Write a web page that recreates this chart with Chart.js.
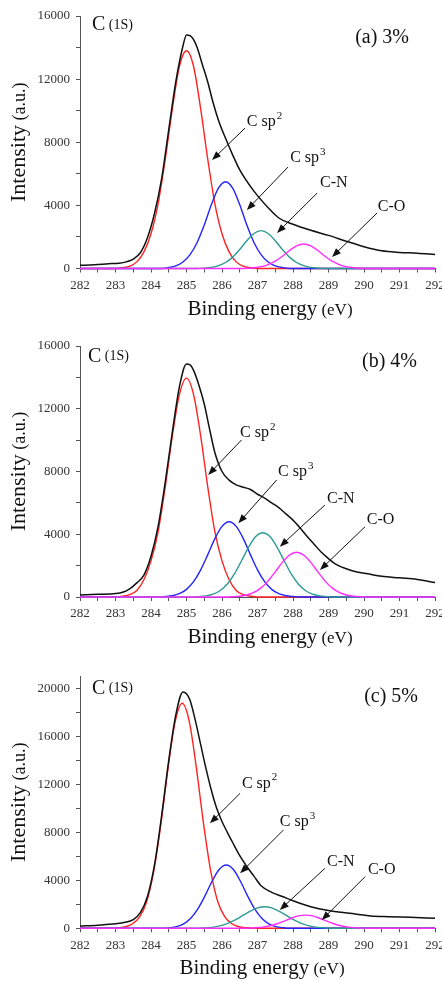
<!DOCTYPE html>
<html>
<head>
<meta charset="utf-8">
<script src="https://cdn.jsdelivr.net/npm/chart.js@4.4.1/dist/chart.umd.min.js"></script>
<style>
    html, body { margin: 0; padding: 0; background: #fff; }
    body { width: 442px; height: 981px; position: relative; overflow: hidden; }
    .painel { position: absolute; left: 0; width: 442px; height: 327px; }
</style>
</head>
<body>
<div class="painel" style="top:0px"><canvas id="chartA" width="442" height="327"></canvas></div>
<div class="painel" style="top:327px"><canvas id="chartB" width="442" height="327"></canvas></div>
<div class="painel" style="top:654px"><canvas id="chartC" width="442" height="327"></canvas></div>
<script>
// ticks dos eixos
const ticksEnergia = [282, 282.5, 283, 283.5, 284, 284.5, 285, 285.5, 286, 286.5, 287, 287.5, 288, 288.5, 289, 289.5, 290, 290.5, 291, 291.5, 292];
const ticksIntensidadeAB = [0, 2000, 4000, 6000, 8000, 10000, 12000, 14000, 16000];
const ticksIntensidadeC = [0, 2000, 4000, 6000, 8000, 10000, 12000, 14000, 16000, 18000, 20000];

// ---- (a) 3% ----
const energiaA = [282.0, 282.4, 282.8, 283.1, 283.3, 283.5, 283.7, 283.9, 284.1, 284.3, 284.5, 284.7, 284.9, 285.0, 285.1, 285.2, 285.3, 285.45, 285.6, 285.75, 285.9, 286.1, 286.3, 286.5, 286.9, 287.3, 287.6, 288.0, 288.5, 289.0, 289.5, 290.0, 290.5, 291.0, 291.5, 292.0];
const envelopeA = [200, 240, 300, 340, 420, 600, 1000, 1950, 3500, 5700, 8800, 11850, 14100, 14800, 14750, 14500, 14000, 12900, 11800, 10500, 9400, 8250, 7200, 6250, 4900, 3850, 3200, 2800, 2420, 2100, 1730, 1380, 1120, 1020, 970, 890];
const sp2EnergiaA = [282, 283.0, 283.2, 283.4, 283.6, 283.8, 284.0, 284.2, 284.4, 284.6, 284.8, 285.0, 285.2, 285.4, 285.6, 285.8, 286.0, 286.2, 286.4, 286.6, 286.8, 287.0, 292];
const sp2A = [0, 0, 50, 150, 420, 1050, 2200, 4100, 6900, 10100, 12800, 13800, 12800, 10100, 6900, 4100, 2200, 1050, 420, 150, 50, 0, 0];
const sp3EnergiaA = [282, 284.3, 284.5, 284.7, 284.9, 285.1, 285.3, 285.5, 285.7, 285.9, 286.1, 286.3, 286.5, 286.7, 286.9, 287.1, 287.3, 287.5, 287.7, 287.9, 292];
const sp3A = [0, 0, 60, 170, 410, 880, 1650, 2750, 4040, 5090, 5500, 5090, 4040, 2750, 1650, 880, 410, 170, 60, 0, 0];
const cnEnergiaA = [282, 285.3, 285.5, 285.7, 285.9, 286.1, 286.3, 286.5, 286.7, 286.9, 287.1, 287.3, 287.5, 287.7, 287.9, 288.1, 288.3, 288.5, 288.7, 288.9, 292];
const cnA = [0, 0, 25, 70, 180, 380, 720, 1200, 1760, 2220, 2400, 2220, 1760, 1200, 720, 380, 180, 70, 25, 0, 0];
const coEnergiaA = [282, 286.5, 286.7, 286.9, 287.1, 287.3, 287.5, 287.7, 287.9, 288.1, 288.3, 288.5, 288.7, 288.9, 289.1, 289.3, 289.5, 289.7, 289.9, 290.1, 292];
const coA = [0, 0, 15, 45, 115, 250, 465, 775, 1140, 1435, 1550, 1435, 1140, 775, 465, 250, 115, 45, 15, 0, 0];

// ---- (b) 4% ----
const energiaB = [282.0, 282.5, 283.0, 283.2, 283.4, 283.6, 283.8, 284.0, 284.2, 284.4, 284.6, 284.8, 285.0, 285.1, 285.2, 285.35, 285.5, 285.65, 285.8, 286.0, 286.2, 286.4, 286.6, 286.8, 287.0, 287.2, 287.4, 287.6, 287.8, 288.0, 288.2, 288.4, 288.6, 288.8, 289.0, 289.2, 289.5, 289.8, 290.1, 290.5, 291.0, 291.5, 292.0];
const envelopeB = [130, 170, 220, 300, 520, 900, 1400, 2600, 4500, 7300, 10500, 13400, 14850, 14800, 14450, 13500, 12300, 10700, 9200, 8000, 7450, 7150, 7000, 6850, 6550, 6300, 6000, 5700, 5300, 4900, 4400, 3850, 3350, 2850, 2450, 2100, 1800, 1600, 1480, 1320, 1220, 1120, 920];
const sp2EnergiaB = [282, 283.0, 283.2, 283.4, 283.6, 283.8, 284.0, 284.2, 284.4, 284.6, 284.8, 285.0, 285.2, 285.4, 285.6, 285.8, 286.0, 286.2, 286.4, 286.6, 286.8, 287.0, 292];
const sp2B = [0, 0, 50, 150, 420, 1100, 2300, 4150, 7000, 10250, 12900, 13950, 12900, 10250, 7000, 4150, 2300, 1100, 420, 150, 50, 0, 0];
const sp3EnergiaB = [282, 284.2, 284.4, 284.6, 284.8, 285.0, 285.2, 285.4, 285.6, 285.8, 286.0, 286.2, 286.4, 286.6, 286.8, 287.0, 287.2, 287.4, 287.6, 287.8, 288.0, 288.2, 292];
const sp3B = [0, 0, 30, 80, 210, 485, 975, 1730, 2700, 3720, 4500, 4800, 4500, 3720, 2700, 1730, 975, 485, 210, 80, 30, 0, 0];
const cnEnergiaB = [282, 285.15, 285.35, 285.55, 285.75, 285.95, 286.15, 286.35, 286.55, 286.75, 286.95, 287.15, 287.35, 287.55, 287.75, 287.95, 288.15, 288.35, 288.55, 288.75, 288.95, 289.15, 292];
const cnB = [0, 0, 25, 70, 180, 415, 830, 1475, 2310, 3180, 3850, 4100, 3850, 3180, 2310, 1475, 830, 415, 180, 70, 25, 0, 0];
const coEnergiaB = [282, 286.1, 286.3, 286.5, 286.7, 286.9, 287.1, 287.3, 287.5, 287.7, 287.9, 288.1, 288.3, 288.5, 288.7, 288.9, 289.1, 289.3, 289.5, 289.7, 289.9, 290.1, 292];
const coB = [0, 0, 17, 48, 125, 290, 580, 1030, 1600, 2210, 2670, 2850, 2670, 2210, 1600, 1030, 580, 290, 125, 48, 17, 0, 0];

// ---- (c) 5% ----
const energiaC = [282.0, 282.5, 283.0, 283.3, 283.5, 283.7, 283.9, 284.1, 284.3, 284.5, 284.7, 284.9, 285.0, 285.1, 285.25, 285.4, 285.55, 285.7, 285.85, 286.0, 286.15, 286.3, 286.5, 286.7, 286.9, 287.1, 287.4, 287.7, 288.0, 288.5, 289.0, 289.6, 290.2, 290.7, 291.3, 292.0];
const envelopeC = [190, 260, 370, 520, 720, 1300, 2650, 5300, 9400, 14000, 17800, 19700, 19550, 19000, 17300, 15300, 13300, 11500, 10000, 8900, 8000, 7150, 6050, 5150, 4350, 3550, 3000, 2650, 2300, 1800, 1480, 1250, 1030, 970, 915, 840];
const sp2EnergiaC = [282, 282.88, 283.08, 283.28, 283.48, 283.68, 283.88, 284.08, 284.28, 284.48, 284.68, 284.88, 285.08, 285.28, 285.48, 285.68, 285.88, 286.08, 286.28, 286.48, 286.68, 286.88, 292];
const sp2C = [0, 0, 40, 130, 380, 950, 2230, 4800, 8720, 13330, 17200, 18750, 17200, 13330, 8720, 4800, 2230, 950, 380, 130, 40, 0, 0];
const sp3EnergiaC = [282, 284.32, 284.52, 284.72, 284.92, 285.12, 285.32, 285.52, 285.72, 285.92, 286.12, 286.32, 286.52, 286.72, 286.92, 287.12, 287.32, 287.52, 287.72, 287.92, 292];
const sp3C = [0, 0, 47, 137, 365, 830, 1610, 2700, 3920, 4900, 5270, 4900, 3920, 2700, 1610, 830, 365, 137, 47, 0, 0];
const cnEnergiaC = [282, 285.2, 285.4, 285.6, 285.8, 286.0, 286.2, 286.4, 286.6, 286.8, 287.0, 287.2, 287.4, 287.6, 287.8, 288.0, 288.2, 288.4, 288.6, 288.8, 289.0, 289.2, 292];
const cnC = [0, 0, 20, 52, 120, 245, 450, 740, 1090, 1440, 1700, 1800, 1700, 1440, 1090, 740, 450, 245, 120, 52, 20, 0, 0];
const coEnergiaC = [282, 286.55, 286.75, 286.95, 287.15, 287.35, 287.55, 287.75, 287.95, 288.15, 288.35, 288.55, 288.75, 288.95, 289.15, 289.35, 289.55, 289.75, 289.95, 290.15, 292];
const coC = [0, 0, 15, 42, 100, 210, 380, 600, 840, 1030, 1100, 1030, 840, 600, 380, 210, 100, 42, 15, 0, 0];

const FONTE = '"Liberation Serif", "Times New Roman", serif';
Chart.defaults.font.family = FONTE;

function serie(xs, ys) {
    return xs.map((x, i) => ({ x: x, y: ys[i] }));
}

// escreve pedaços de texto com tamanhos diferentes na mesma linha
function escreverMisto(ctx, partes, x, y, alinhamento) {
    let total = 0;
    partes.forEach(p => { ctx.font = p[1] + 'px ' + FONTE; total += ctx.measureText(p[0]).width; });
    let cx = alinhamento === 'center' ? x - total / 2 : x;
    ctx.textAlign = 'left';
    partes.forEach(p => {
        ctx.font = p[1] + 'px ' + FONTE;
        ctx.fillText(p[0], cx, y);
        cx += ctx.measureText(p[0]).width;
    });
}

function seta(ctx, x1, y1, x2, y2) {
    const ang = Math.atan2(y2 - y1, x2 - x1);
    const comp = 9, larg = 3.5;
    ctx.beginPath();
    ctx.moveTo(x1, y1);
    ctx.lineTo(x2 - Math.cos(ang) * comp * 0.6, y2 - Math.sin(ang) * comp * 0.6);
    ctx.stroke();
    ctx.beginPath();
    ctx.moveTo(x2, y2);
    ctx.lineTo(x2 - Math.cos(ang) * comp - Math.sin(ang) * larg, y2 - Math.sin(ang) * comp + Math.cos(ang) * larg);
    ctx.lineTo(x2 - Math.cos(ang) * comp + Math.sin(ang) * larg, y2 - Math.sin(ang) * comp - Math.cos(ang) * larg);
    ctx.closePath();
    ctx.fill();
}

const rotulosPlugin = {
    id: 'rotulos',
    afterDraw(chart, args, opts) {
        const ctx = chart.ctx, area = chart.chartArea;
        const sx = chart.scales.x, sy = chart.scales.y;
        ctx.save();
        ctx.fillStyle = '#111';
        ctx.strokeStyle = '#111';
        ctx.lineWidth = 1;

        //Titulo do eixo y (girado)
        ctx.save();
        ctx.translate(25, (area.top + area.bottom) / 2);
        ctx.rotate(-Math.PI / 2);
        ctx.textBaseline = 'alphabetic';
        escreverMisto(ctx, [['Intensity', 22], [' (a.u.)', 18]], 0, 0, 'center');
        ctx.restore();

        //Titulo do eixo x
        ctx.textBaseline = 'alphabetic';
        escreverMisto(ctx, [['Binding energy', 21], [' (eV)', 17]], opts.tituloX, area.bottom + 46, 'center');

        ctx.textBaseline = 'middle';
        escreverMisto(ctx, [['C', 20], [' (1S)', 14]], opts.c1s[0], opts.c1s[1], 'left');

        ctx.font = '20px ' + FONTE;
        ctx.textAlign = 'right';
        ctx.fillText(opts.tag, opts.tagPos[0], opts.tagPos[1]);

        opts.picos.forEach(p => {
            const lx = sx.getPixelForValue(p.em[0]), ly = sy.getPixelForValue(p.em[1]);
            ctx.textAlign = 'left';
            ctx.font = '16px ' + FONTE;
            ctx.fillText(p.texto, lx, ly);
            if (p.sup) {
                const w = ctx.measureText(p.texto).width;
                ctx.font = '11px ' + FONTE;
                ctx.fillText(p.sup, lx + w + 1, ly - 6);
            }
            seta(ctx, sx.getPixelForValue(p.de[0]), sy.getPixelForValue(p.de[1]),
                sx.getPixelForValue(p.para[0]), sy.getPixelForValue(p.para[1]));
        });
        ctx.restore();
    }
};

function gerarPainel(id, series, ticksY, cfg) {
    const cores = ['#111111', '#ff2cff', '#2e9b93', '#2323ff', '#ff2222'];
    const datasets = series.map((s, i) => ({
        data: s,
        borderColor: cores[i],
        borderWidth: i === 0 ? 1.5 : 1.4,
        pointRadius: 0,
        cubicInterpolationMode: 'monotone',
        fill: false,
        clip: false
    }));

    const config = {
        type: 'line',
        data: { datasets },
        options: {
            responsive: false,
            animation: false,
            layout: { padding: { top: cfg.topo, right: 7, left: 0, bottom: 0 } },
            plugins: {
                legend: { display: false },
                tooltip: { enabled: false },
                rotulos: cfg
            },
            scales: {
                x: {
                    type: 'linear', min: 282, max: 292,
                    afterBuildTicks: s => { s.ticks = ticksEnergia.map(v => ({ value: v })); },
                    ticks: {
                        autoSkip: false, maxRotation: 0, padding: 5,
                        color: '#333', font: { size: 13 },
                        callback: v => Number.isInteger(v) ? String(v) : ''
                    },
                    grid: { drawOnChartArea: false, tickLength: 4, color: '#555' },
                    border: { color: '#555', width: 1 },
                    afterFit: s => { s.height = 327 - cfg.base; s.paddingLeft = 0; s.paddingRight = 0; }
                },
                y: {
                    min: 0, max: cfg.yMax,
                    afterBuildTicks: s => { s.ticks = ticksY.map(v => ({ value: v })); },
                    ticks: {
                        autoSkip: false, padding: 6,
                        color: '#333', font: { size: 13 },
                        callback: v => v % 4000 === 0 ? String(v) : ''
                    },
                    grid: { drawOnChartArea: false, tickLength: 4, color: '#555' },
                    border: { color: '#555', width: 1 },
                    afterFit: s => { s.width = 80; s.paddingTop = 0; s.paddingBottom = 0; }
                }
            }
        },
        plugins: [rotulosPlugin]
    };
    return new Chart(document.getElementById(id), config);
}

document.addEventListener('DOMContentLoaded', () => {
    gerarPainel('chartA', [
        serie(energiaA, envelopeA), serie(coEnergiaA, coA), serie(cnEnergiaA, cnA),
        serie(sp3EnergiaA, sp3A), serie(sp2EnergiaA, sp2A)
    ], ticksIntensidadeAB, {
        topo: 16, base: 268.5, yMax: 16000, tituloX: 270,
        c1s: [92, 25], tag: '(a) 3%', tagPos: [409, 38],
        picos: [
            { texto: 'C sp', sup: '2', em: [286.70, 9280], de: [286.65, 8900], para: [285.72, 6875] },
            { texto: 'C sp', sup: '3', em: [287.92, 7000], de: [287.86, 6430], para: [286.70, 3710] },
            { texto: 'C-N', em: [288.76, 5420], de: [288.68, 4780], para: [287.55, 2250] },
            { texto: 'C-O', em: [290.39, 3900], de: [290.37, 3520], para: [289.10, 730] }
        ]
    });

    gerarPainel('chartB', [
        serie(energiaB, envelopeB), serie(coEnergiaB, coB), serie(cnEnergiaB, cnB),
        serie(sp3EnergiaB, sp3B), serie(sp2EnergiaB, sp2B)
    ], ticksIntensidadeAB, {
        topo: 19, base: 270, yMax: 16000, tituloX: 270,
        c1s: [88, 29.7], tag: '(b) 4%', tagPos: [417, 34.7],
        picos: [
            { texto: 'C sp', sup: '2', em: [286.51, 10450], de: [286.55, 10010], para: [285.61, 7780] },
            { texto: 'C sp', sup: '3', em: [287.58, 7990], de: [287.54, 7460], para: [286.46, 4700] },
            { texto: 'C-N', em: [288.96, 6290], de: [288.90, 5865], para: [287.63, 3210] },
            { texto: 'C-O', em: [290.08, 4910], de: [290.03, 4480], para: [288.76, 1720] }
        ]
    });

    gerarPainel('chartC', [
        serie(energiaC, envelopeC), serie(coEnergiaC, coC), serie(cnEnergiaC, cnC),
        serie(sp3EnergiaC, sp3C), serie(sp2EnergiaC, sp2C)
    ], ticksIntensidadeC, {
        topo: 22.3, base: 274.3, yMax: 21000, tituloX: 262,
        c1s: [92, 34.3], tag: '(c) 5%', tagPos: [418, 42.7],
        picos: [
            { texto: 'C sp', sup: '2', em: [286.56, 12080], de: [286.51, 11250], para: [285.66, 8750] },
            { texto: 'C sp', sup: '3', em: [287.63, 8880], de: [287.73, 8190], para: [286.51, 4580] },
            { texto: 'C-N', em: [288.96, 5550], de: [288.90, 5000], para: [287.63, 1525] },
            { texto: 'C-O', em: [290.11, 4860], de: [290.03, 4300], para: [288.81, 690] }
        ]
    });
});
</script>
</body>
</html>
